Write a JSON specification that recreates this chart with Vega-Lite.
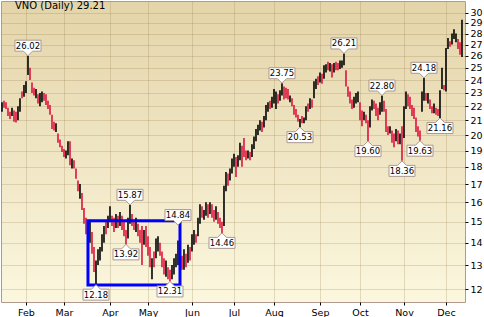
{
  "$schema": "https://vega.github.io/schema/vega-lite/v6.json",
  "width": 464,
  "height": 301,
  "autosize": "none",
  "padding": {"left": 1, "top": 1, "right": 19, "bottom": 15},
  "background": "white",
  "title": {"text": "VNO (Daily) 29.21", "anchor": "start", "frame": "group", "orient": "top", "offset": -10, "dx": 14, "font": "DejaVu Sans", "fontSize": 10, "fontWeight": "normal", "color": "#000000"},
  "config": {
    "view": {"stroke": "#b09a90", "strokeWidth": 1, "fill": {"gradient": "linear", "x1": 0, "y1": 0, "x2": 0, "y2": 1, "stops": [{"offset": 0, "color": "#e4d4a9"}, {"offset": 1, "color": "#fbf7de"}]}},
    "axis": {"labelFont": "DejaVu Sans", "labelFontSize": 9.5, "labelColor": "#000000", "tickColor": "#000000", "gridColor": "#8c7040", "gridOpacity": 0.22, "domain": false, "title": null}
  },
  "datasets": {
    "bars": [
      {"d":"2023-01-13","h":22.3,"l":21.6,"c":"u"},
      {"d":"2023-01-17","h":22.4,"l":21.9,"c":"d"},
      {"d":"2023-01-18","h":22.3,"l":21.8,"c":"d"},
      {"d":"2023-01-19","h":21.9,"l":21.3,"c":"d"},
      {"d":"2023-01-20","h":21.6,"l":21.1,"c":"d"},
      {"d":"2023-01-23","h":21.9,"l":21.3,"c":"u"},
      {"d":"2023-01-24","h":21.7,"l":20.9,"c":"d"},
      {"d":"2023-01-25","h":21.6,"l":20.85,"c":"d"},
      {"d":"2023-01-26","h":22.0,"l":21.0,"c":"u"},
      {"d":"2023-01-27","h":22.6,"l":21.6,"c":"u"},
      {"d":"2023-01-30","h":23.1,"l":22.6,"c":"d"},
      {"d":"2023-01-31","h":23.6,"l":22.7,"c":"u"},
      {"d":"2023-02-01","h":23.9,"l":23.0,"c":"u"},
      {"d":"2023-02-02","h":26.02,"l":24.4,"c":"u"},
      {"d":"2023-02-03","h":25.0,"l":24.0,"c":"d"},
      {"d":"2023-02-06","h":23.8,"l":23.0,"c":"d"},
      {"d":"2023-02-07","h":23.4,"l":22.8,"c":"d"},
      {"d":"2023-02-08","h":23.3,"l":22.6,"c":"u"},
      {"d":"2023-02-09","h":22.9,"l":22.2,"c":"d"},
      {"d":"2023-02-10","h":23.0,"l":22.0,"c":"u"},
      {"d":"2023-02-13","h":23.1,"l":22.3,"c":"u"},
      {"d":"2023-02-14","h":23.0,"l":22.4,"c":"d"},
      {"d":"2023-02-15","h":22.9,"l":22.1,"c":"d"},
      {"d":"2023-02-16","h":22.4,"l":21.8,"c":"d"},
      {"d":"2023-02-17","h":22.1,"l":21.4,"c":"d"},
      {"d":"2023-02-21","h":21.4,"l":20.4,"c":"d"},
      {"d":"2023-02-22","h":20.9,"l":20.3,"c":"d"},
      {"d":"2023-02-23","h":20.8,"l":20.2,"c":"u"},
      {"d":"2023-02-24","h":20.1,"l":19.5,"c":"d"},
      {"d":"2023-02-27","h":19.7,"l":19.2,"c":"d"},
      {"d":"2023-02-28","h":19.3,"l":18.9,"c":"d"},
      {"d":"2023-03-01","h":19.1,"l":18.6,"c":"d"},
      {"d":"2023-03-02","h":19.0,"l":18.5,"c":"u"},
      {"d":"2023-03-03","h":19.6,"l":18.7,"c":"u"},
      {"d":"2023-03-06","h":19.6,"l":18.1,"c":"d"},
      {"d":"2023-03-07","h":18.5,"l":17.9,"c":"u"},
      {"d":"2023-03-08","h":18.4,"l":17.9,"c":"d"},
      {"d":"2023-03-09","h":17.9,"l":17.3,"c":"d"},
      {"d":"2023-03-10","h":17.2,"l":16.6,"c":"d"},
      {"d":"2023-03-13","h":17.0,"l":16.2,"c":"u"},
      {"d":"2023-03-14","h":16.5,"l":15.6,"c":"d"},
      {"d":"2023-03-15","h":15.7,"l":14.9,"c":"d"},
      {"d":"2023-03-16","h":15.2,"l":14.4,"c":"d"},
      {"d":"2023-03-17","h":14.6,"l":13.8,"c":"d"},
      {"d":"2023-03-20","h":15.1,"l":14.0,"c":"u"},
      {"d":"2023-03-21","h":14.5,"l":13.5,"c":"d"},
      {"d":"2023-03-22","h":13.8,"l":12.7,"c":"d"},
      {"d":"2023-03-23","h":13.2,"l":12.18,"c":"u"},
      {"d":"2023-03-24","h":13.7,"l":13.0,"c":"u"},
      {"d":"2023-03-27","h":13.8,"l":13.2,"c":"u"},
      {"d":"2023-03-28","h":14.4,"l":13.6,"c":"u"},
      {"d":"2023-03-29","h":14.8,"l":14.0,"c":"u"},
      {"d":"2023-03-30","h":15.0,"l":14.4,"c":"d"},
      {"d":"2023-03-31","h":15.3,"l":14.7,"c":"u"},
      {"d":"2023-04-03","h":15.8,"l":15.0,"c":"u"},
      {"d":"2023-04-04","h":15.3,"l":14.8,"c":"d"},
      {"d":"2023-04-05","h":15.2,"l":14.5,"c":"d"},
      {"d":"2023-04-06","h":15.4,"l":14.7,"c":"u"},
      {"d":"2023-04-10","h":15.3,"l":14.7,"c":"d"},
      {"d":"2023-04-11","h":15.5,"l":14.8,"c":"u"},
      {"d":"2023-04-12","h":15.3,"l":14.6,"c":"d"},
      {"d":"2023-04-13","h":15.0,"l":14.3,"c":"d"},
      {"d":"2023-04-14","h":14.6,"l":13.92,"c":"d"},
      {"d":"2023-04-17","h":15.2,"l":14.2,"c":"u"},
      {"d":"2023-04-18","h":15.87,"l":14.9,"c":"u"},
      {"d":"2023-04-19","h":15.4,"l":14.8,"c":"d"},
      {"d":"2023-04-20","h":15.1,"l":14.6,"c":"d"},
      {"d":"2023-04-21","h":15.2,"l":14.5,"c":"u"},
      {"d":"2023-04-24","h":14.9,"l":14.3,"c":"d"},
      {"d":"2023-04-25","h":14.6,"l":14.0,"c":"d"},
      {"d":"2023-04-26","h":14.8,"l":13.0,"c":"d"},
      {"d":"2023-04-27","h":14.6,"l":13.9,"c":"u"},
      {"d":"2023-04-28","h":14.8,"l":13.8,"c":"d"},
      {"d":"2023-05-01","h":14.3,"l":13.4,"c":"d"},
      {"d":"2023-05-02","h":13.8,"l":12.9,"c":"d"},
      {"d":"2023-05-03","h":13.3,"l":12.4,"c":"u"},
      {"d":"2023-05-04","h":13.6,"l":12.9,"c":"d"},
      {"d":"2023-05-05","h":14.2,"l":13.3,"c":"u"},
      {"d":"2023-05-08","h":14.3,"l":13.6,"c":"u"},
      {"d":"2023-05-09","h":14.0,"l":13.4,"c":"d"},
      {"d":"2023-05-10","h":13.6,"l":12.9,"c":"d"},
      {"d":"2023-05-11","h":13.3,"l":12.6,"c":"d"},
      {"d":"2023-05-12","h":13.2,"l":12.5,"c":"u"},
      {"d":"2023-05-15","h":12.9,"l":12.4,"c":"d"},
      {"d":"2023-05-16","h":12.8,"l":12.31,"c":"d"},
      {"d":"2023-05-17","h":13.0,"l":12.4,"c":"u"},
      {"d":"2023-05-18","h":13.3,"l":12.6,"c":"u"},
      {"d":"2023-05-19","h":13.5,"l":12.9,"c":"u"},
      {"d":"2023-05-22","h":14.1,"l":13.0,"c":"u"},
      {"d":"2023-05-23","h":14.0,"l":13.3,"c":"d"},
      {"d":"2023-05-24","h":13.4,"l":12.8,"c":"d"},
      {"d":"2023-05-25","h":13.7,"l":12.8,"c":"u"},
      {"d":"2023-05-26","h":13.5,"l":12.9,"c":"d"},
      {"d":"2023-05-30","h":13.9,"l":13.1,"c":"u"},
      {"d":"2023-05-31","h":13.8,"l":13.2,"c":"d"},
      {"d":"2023-06-01","h":14.4,"l":13.6,"c":"u"},
      {"d":"2023-06-02","h":14.6,"l":13.9,"c":"u"},
      {"d":"2023-06-05","h":14.4,"l":14.0,"c":"d"},
      {"d":"2023-06-06","h":15.2,"l":14.3,"c":"u"},
      {"d":"2023-06-07","h":15.9,"l":14.9,"c":"u"},
      {"d":"2023-06-08","h":15.8,"l":15.2,"c":"d"},
      {"d":"2023-06-09","h":15.6,"l":15.1,"c":"u"},
      {"d":"2023-06-12","h":16.0,"l":15.3,"c":"u"},
      {"d":"2023-06-13","h":15.9,"l":15.2,"c":"d"},
      {"d":"2023-06-14","h":16.0,"l":15.4,"c":"u"},
      {"d":"2023-06-15","h":15.9,"l":15.2,"c":"d"},
      {"d":"2023-06-16","h":15.6,"l":15.0,"c":"d"},
      {"d":"2023-06-20","h":15.8,"l":15.1,"c":"u"},
      {"d":"2023-06-21","h":15.5,"l":14.9,"c":"d"},
      {"d":"2023-06-22","h":15.2,"l":14.7,"c":"d"},
      {"d":"2023-06-23","h":15.0,"l":14.46,"c":"d"},
      {"d":"2023-06-26","h":16.9,"l":14.8,"c":"u"},
      {"d":"2023-06-27","h":17.7,"l":16.6,"c":"u"},
      {"d":"2023-06-28","h":17.6,"l":16.9,"c":"d"},
      {"d":"2023-06-29","h":17.9,"l":17.2,"c":"u"},
      {"d":"2023-06-30","h":18.5,"l":17.6,"c":"u"},
      {"d":"2023-07-03","h":18.8,"l":18.0,"c":"u"},
      {"d":"2023-07-05","h":18.6,"l":17.4,"c":"d"},
      {"d":"2023-07-06","h":18.7,"l":18.0,"c":"u"},
      {"d":"2023-07-07","h":19.5,"l":18.4,"c":"u"},
      {"d":"2023-07-10","h":19.3,"l":18.0,"c":"d"},
      {"d":"2023-07-11","h":19.8,"l":18.6,"c":"d"},
      {"d":"2023-07-12","h":19.0,"l":18.4,"c":"d"},
      {"d":"2023-07-13","h":19.0,"l":18.5,"c":"u"},
      {"d":"2023-07-14","h":18.9,"l":18.4,"c":"d"},
      {"d":"2023-07-17","h":19.4,"l":18.6,"c":"u"},
      {"d":"2023-07-18","h":19.9,"l":19.1,"c":"u"},
      {"d":"2023-07-19","h":20.4,"l":19.6,"c":"u"},
      {"d":"2023-07-20","h":20.7,"l":20.0,"c":"u"},
      {"d":"2023-07-21","h":21.0,"l":20.3,"c":"u"},
      {"d":"2023-07-24","h":20.9,"l":20.2,"c":"d"},
      {"d":"2023-07-25","h":21.3,"l":20.5,"c":"u"},
      {"d":"2023-07-26","h":22.1,"l":21.0,"c":"u"},
      {"d":"2023-07-27","h":22.3,"l":21.6,"c":"u"},
      {"d":"2023-07-28","h":22.4,"l":21.8,"c":"d"},
      {"d":"2023-07-31","h":22.7,"l":21.9,"c":"u"},
      {"d":"2023-08-01","h":23.3,"l":22.2,"c":"u"},
      {"d":"2023-08-02","h":23.1,"l":21.8,"c":"u"},
      {"d":"2023-08-03","h":22.9,"l":22.2,"c":"d"},
      {"d":"2023-08-04","h":23.2,"l":22.4,"c":"u"},
      {"d":"2023-08-07","h":23.75,"l":22.8,"c":"u"},
      {"d":"2023-08-08","h":23.5,"l":22.5,"c":"d"},
      {"d":"2023-08-09","h":23.4,"l":22.6,"c":"d"},
      {"d":"2023-08-10","h":23.3,"l":22.5,"c":"d"},
      {"d":"2023-08-11","h":22.8,"l":22.3,"c":"u"},
      {"d":"2023-08-14","h":22.6,"l":22.0,"c":"d"},
      {"d":"2023-08-15","h":22.1,"l":21.4,"c":"d"},
      {"d":"2023-08-16","h":21.8,"l":21.2,"c":"d"},
      {"d":"2023-08-17","h":21.4,"l":20.9,"c":"d"},
      {"d":"2023-08-18","h":21.1,"l":20.53,"c":"u"},
      {"d":"2023-08-21","h":21.3,"l":20.8,"c":"d"},
      {"d":"2023-08-22","h":21.2,"l":20.8,"c":"u"},
      {"d":"2023-08-23","h":22.0,"l":21.0,"c":"u"},
      {"d":"2023-08-24","h":22.2,"l":21.6,"c":"d"},
      {"d":"2023-08-25","h":22.6,"l":21.8,"c":"u"},
      {"d":"2023-08-28","h":22.5,"l":21.9,"c":"d"},
      {"d":"2023-08-29","h":23.9,"l":22.6,"c":"u"},
      {"d":"2023-08-30","h":24.1,"l":23.3,"c":"u"},
      {"d":"2023-08-31","h":24.3,"l":23.6,"c":"d"},
      {"d":"2023-09-01","h":24.6,"l":23.8,"c":"u"},
      {"d":"2023-09-05","h":24.5,"l":23.7,"c":"d"},
      {"d":"2023-09-06","h":25.2,"l":24.1,"c":"u"},
      {"d":"2023-09-07","h":25.3,"l":24.6,"c":"u"},
      {"d":"2023-09-08","h":25.5,"l":24.8,"c":"d"},
      {"d":"2023-09-11","h":25.4,"l":24.7,"c":"u"},
      {"d":"2023-09-12","h":25.3,"l":24.2,"c":"d"},
      {"d":"2023-09-13","h":25.4,"l":24.6,"c":"u"},
      {"d":"2023-09-14","h":25.5,"l":24.8,"c":"d"},
      {"d":"2023-09-15","h":25.4,"l":24.8,"c":"d"},
      {"d":"2023-09-18","h":25.6,"l":24.9,"c":"u"},
      {"d":"2023-09-19","h":25.6,"l":25.0,"c":"u"},
      {"d":"2023-09-20","h":26.21,"l":25.2,"c":"u"},
      {"d":"2023-09-21","h":24.8,"l":23.5,"c":"d"},
      {"d":"2023-09-22","h":23.5,"l":22.7,"c":"d"},
      {"d":"2023-09-25","h":23.1,"l":22.2,"c":"d"},
      {"d":"2023-09-26","h":22.5,"l":21.8,"c":"d"},
      {"d":"2023-09-27","h":22.7,"l":21.9,"c":"u"},
      {"d":"2023-09-28","h":23.0,"l":22.2,"c":"u"},
      {"d":"2023-09-29","h":23.1,"l":22.3,"c":"u"},
      {"d":"2023-10-02","h":22.3,"l":21.0,"c":"d"},
      {"d":"2023-10-03","h":21.7,"l":20.6,"c":"d"},
      {"d":"2023-10-04","h":21.6,"l":21.0,"c":"u"},
      {"d":"2023-10-05","h":21.4,"l":20.8,"c":"d"},
      {"d":"2023-10-06","h":21.0,"l":19.6,"c":"d"},
      {"d":"2023-10-09","h":22.0,"l":20.5,"c":"u"},
      {"d":"2023-10-10","h":22.5,"l":21.7,"c":"u"},
      {"d":"2023-10-11","h":22.4,"l":21.8,"c":"d"},
      {"d":"2023-10-12","h":22.2,"l":21.3,"c":"d"},
      {"d":"2023-10-13","h":21.9,"l":21.0,"c":"d"},
      {"d":"2023-10-16","h":22.3,"l":21.4,"c":"u"},
      {"d":"2023-10-17","h":22.8,"l":21.6,"c":"u"},
      {"d":"2023-10-18","h":22.4,"l":21.6,"c":"d"},
      {"d":"2023-10-19","h":21.8,"l":20.2,"c":"d"},
      {"d":"2023-10-20","h":20.6,"l":20.0,"c":"d"},
      {"d":"2023-10-23","h":20.6,"l":20.1,"c":"u"},
      {"d":"2023-10-24","h":20.3,"l":19.5,"c":"d"},
      {"d":"2023-10-25","h":20.1,"l":19.2,"c":"d"},
      {"d":"2023-10-26","h":20.4,"l":19.6,"c":"u"},
      {"d":"2023-10-27","h":20.3,"l":19.4,"c":"d"},
      {"d":"2023-10-30","h":20.1,"l":19.4,"c":"u"},
      {"d":"2023-10-31","h":20.6,"l":18.36,"c":"d"},
      {"d":"2023-11-01","h":22.0,"l":19.8,"c":"u"},
      {"d":"2023-11-02","h":23.1,"l":21.8,"c":"u"},
      {"d":"2023-11-03","h":22.9,"l":22.0,"c":"d"},
      {"d":"2023-11-06","h":22.7,"l":21.8,"c":"d"},
      {"d":"2023-11-07","h":22.1,"l":21.3,"c":"d"},
      {"d":"2023-11-08","h":21.9,"l":21.1,"c":"d"},
      {"d":"2023-11-09","h":21.2,"l":20.2,"c":"d"},
      {"d":"2023-11-10","h":20.6,"l":19.9,"c":"d"},
      {"d":"2023-11-13","h":20.3,"l":19.63,"c":"d"},
      {"d":"2023-11-14","h":23.1,"l":21.6,"c":"u"},
      {"d":"2023-11-15","h":24.18,"l":22.4,"c":"u"},
      {"d":"2023-11-16","h":23.0,"l":22.4,"c":"d"},
      {"d":"2023-11-17","h":23.0,"l":22.2,"c":"u"},
      {"d":"2023-11-20","h":22.5,"l":21.8,"c":"d"},
      {"d":"2023-11-21","h":22.0,"l":21.5,"c":"d"},
      {"d":"2023-11-22","h":22.2,"l":21.5,"c":"u"},
      {"d":"2023-11-24","h":21.9,"l":21.4,"c":"d"},
      {"d":"2023-11-27","h":21.8,"l":21.3,"c":"d"},
      {"d":"2023-11-28","h":23.2,"l":21.16,"c":"u"},
      {"d":"2023-11-29","h":25.0,"l":23.3,"c":"u"},
      {"d":"2023-11-30","h":23.6,"l":23.2,"c":"d"},
      {"d":"2023-12-01","h":26.7,"l":23.1,"c":"u"},
      {"d":"2023-12-04","h":27.6,"l":26.6,"c":"u"},
      {"d":"2023-12-05","h":27.3,"l":26.8,"c":"d"},
      {"d":"2023-12-06","h":28.0,"l":27.0,"c":"u"},
      {"d":"2023-12-07","h":28.4,"l":27.5,"c":"u"},
      {"d":"2023-12-08","h":28.0,"l":27.2,"c":"u"},
      {"d":"2023-12-11","h":27.5,"l":26.6,"c":"d"},
      {"d":"2023-12-12","h":27.2,"l":26.1,"c":"d"},
      {"d":"2023-12-13","h":29.3,"l":25.9,"c":"u"}
    ],
    "labels": [
      {"d":"2023-02-02","v":26.02,"t":"26.02","p":"a"},
      {"d":"2023-03-23","v":12.18,"t":"12.18","p":"b"},
      {"d":"2023-04-18","v":15.87,"t":"15.87","p":"a"},
      {"d":"2023-04-14","v":13.92,"t":"13.92","p":"b"},
      {"d":"2023-05-22","v":14.84,"t":"14.84","p":"a"},
      {"d":"2023-05-16","v":12.31,"t":"12.31","p":"b"},
      {"d":"2023-06-23","v":14.46,"t":"14.46","p":"b"},
      {"d":"2023-08-07","v":23.75,"t":"23.75","p":"a"},
      {"d":"2023-08-18","v":20.53,"t":"20.53","p":"b"},
      {"d":"2023-09-20","v":26.21,"t":"26.21","p":"a"},
      {"d":"2023-10-06","v":19.6,"t":"19.60","p":"b"},
      {"d":"2023-10-17","v":22.8,"t":"22.80","p":"a"},
      {"d":"2023-10-31","v":18.36,"t":"18.36","p":"b"},
      {"d":"2023-11-13","v":19.63,"t":"19.63","p":"b"},
      {"d":"2023-11-15","v":24.18,"t":"24.18","p":"a"},
      {"d":"2023-11-28","v":21.16,"t":"21.16","p":"b"}
    ],
    "box": [
      {"d1":"2023-03-17","d2":"2023-05-23","v1":12.17,"v2":15.06}
    ]
  },
  "layer": [
    {
      "data": {"name": "bars"},
      "mark": {"type": "rule", "strokeWidth": 1.6},
      "encoding": {
        "x": {"field": "d", "type": "ordinal", "scale": {"type": "point", "padding": 1.935, "align": 0.247, "round": false},
          "axis": {"values": ["2023-02-01","2023-03-01","2023-04-03","2023-05-01","2023-06-01","2023-07-03","2023-08-01","2023-09-01","2023-10-02","2023-11-01","2023-12-01"],
            "labelExpr": "timeFormat(toDate(datum.value + 'T12:00:00'), '%b')", "labelAngle": 0, "grid": true, "ticks": true, "tickSize": 3, "labelPadding": 2, "orient": "bottom"}},
        "y": {"field": "l", "type": "quantitative", "scale": {"type": "log", "domain": [11.5, 31.19], "nice": false, "zero": false},
          "axis": {"orient": "right", "values": [12,13,14,15,16,17,18,19,20,21,22,23,24,25,26,27,28,29,30], "format": "d", "grid": true, "ticks": true, "tickSize": 3, "labelPadding": 2}},
        "y2": {"field": "h"},
        "color": {"field": "c", "type": "nominal", "scale": {"domain": ["u", "d"], "range": ["#000000", "#dc143c"]}, "legend": null}
      }
    },
    {
      "data": {"name": "box"},
      "mark": {"type": "rect", "fillOpacity": 0, "stroke": "#0000ff", "strokeWidth": 3},
      "encoding": {
        "x": {"field": "d1", "type": "ordinal"},
        "x2": {"field": "d2"},
        "y": {"field": "v1", "type": "quantitative"},
        "y2": {"field": "v2"}
      }
    },
    {
      "data": {"name": "labels"},
      "transform": [{"filter": "datum.p == 'a'"}],
      "mark": {"type": "point", "shape": "M0,0L-4.5,-4.5H-13V-15.5H13V-4.5H4.5Z", "size": 4, "filled": true, "fill": "#ffffff", "stroke": "#a89890", "strokeWidth": 1, "opacity": 1},
      "encoding": {"x": {"field": "d", "type": "ordinal"}, "y": {"field": "v", "type": "quantitative"}}
    },
    {
      "data": {"name": "labels"},
      "transform": [{"filter": "datum.p == 'b'"}],
      "mark": {"type": "point", "shape": "M0,0L4.5,4.5H13V15.5H-13V4.5H-4.5Z", "size": 4, "filled": true, "fill": "#ffffff", "stroke": "#a89890", "strokeWidth": 1, "opacity": 1},
      "encoding": {"x": {"field": "d", "type": "ordinal"}, "y": {"field": "v", "type": "quantitative"}}
    },
    {
      "data": {"name": "labels"},
      "transform": [{"filter": "datum.p == 'a'"}],
      "mark": {"type": "text", "dy": -10, "baseline": "middle", "align": "center", "font": "DejaVu Sans", "fontSize": 8.5, "color": "#000000"},
      "encoding": {"x": {"field": "d", "type": "ordinal"}, "y": {"field": "v", "type": "quantitative"}, "text": {"field": "t"}}
    },
    {
      "data": {"name": "labels"},
      "transform": [{"filter": "datum.p == 'b'"}],
      "mark": {"type": "text", "dy": 10, "baseline": "middle", "align": "center", "font": "DejaVu Sans", "fontSize": 8.5, "color": "#000000"},
      "encoding": {"x": {"field": "d", "type": "ordinal"}, "y": {"field": "v", "type": "quantitative"}, "text": {"field": "t"}}
    }
  ]
}
